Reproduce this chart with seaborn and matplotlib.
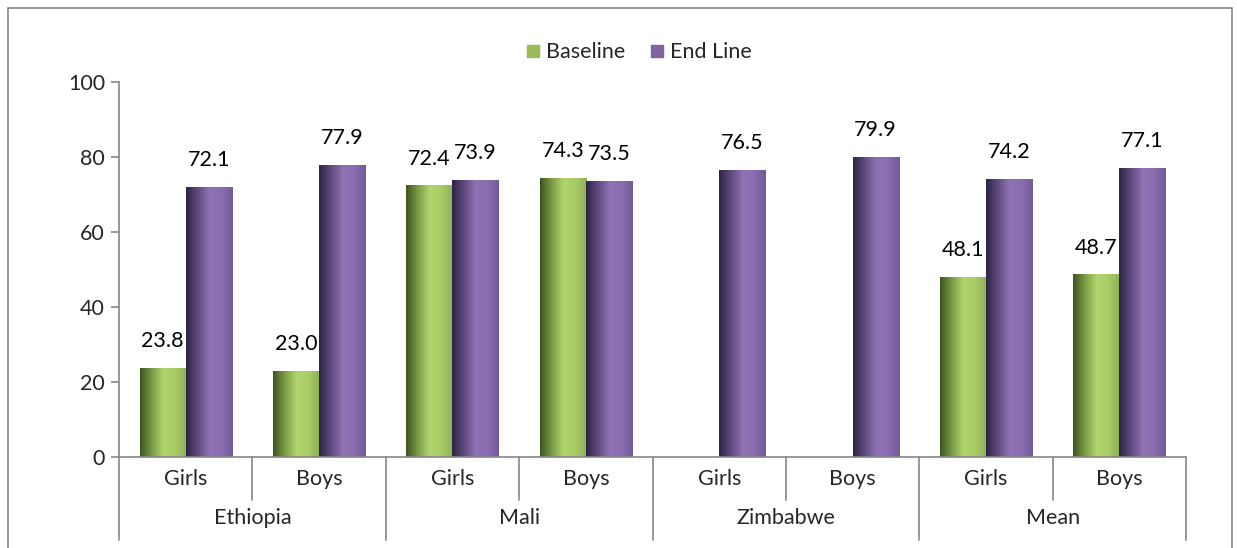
import numpy as np
import pandas as pd
import matplotlib
matplotlib.use("Agg")
import matplotlib.pyplot as plt
from matplotlib.colors import LinearSegmentedColormap
from matplotlib.lines import Line2D
from matplotlib.patches import Rectangle
import seaborn as sns

# Data
countries = ["Ethiopia", "Mali", "Zimbabwe", "Mean"]
genders = ["Girls", "Boys"]
baseline = [23.8, 23.0, 72.4, 74.3, np.nan, np.nan, 48.1, 48.7]
endline = [72.1, 77.9, 73.9, 73.5, 76.5, 79.9, 74.2, 77.1]
series_names = ["Baseline", "End Line"]
yticks = [0, 20, 40, 60, 80, 100]

sns.set_theme(style="white")
plt.rcParams["font.family"] = ["Lato", "DejaVu Sans"]
FS = 15.5

slots = [f"{c}|{g}" for c in countries for g in genders]
rows = []
for s, b, e in zip(slots, baseline, endline):
    if not np.isnan(b):
        rows.append({"slot": s, "series": "Baseline", "value": b})
    rows.append({"slot": s, "series": "End Line", "value": e})
df = pd.DataFrame(rows)

green = "#9bbb59"
purple = "#8064a2"
grad = {
    "Baseline": LinearSegmentedColormap.from_list(
        "g", ["#3d5420", "#7a9a44", "#b2d46e", "#a8cc66", "#8fb057"]),
    "End Line": LinearSegmentedColormap.from_list(
        "p", ["#2e2442", "#5e4a7e", "#8e72b4", "#8a6fb0", "#72599a"]),
}

fig = plt.figure(figsize=(12.37, 5.48), dpi=100)
ax = fig.add_axes([0.0962, 0.166, 0.8626, 0.6844])

sns.barplot(data=df, x="slot", y="value", hue="series", order=slots,
            hue_order=series_names, palette=[green, purple], width=0.69,
            errorbar=None, ax=ax, legend=False)

# gradient fill on each bar + value labels
gv = np.linspace(0, 1, 256).reshape(1, -1)
for container, name in zip(ax.containers, series_names):
    for bar in container:
        h = bar.get_height()
        if np.isnan(h) or h == 0:
            continue
        x0, w = bar.get_x(), bar.get_width()
        im = ax.imshow(gv, cmap=grad[name], aspect="auto",
                       extent=[x0, x0 + w, 0, h], zorder=2)
        im.set_clip_path(bar)
        ax.text(x0 + w / 2, h + 4.5, f"{h:.1f}", ha="center", va="bottom",
                fontsize=FS, color="black")

ax.set_xlim(-0.5, len(slots) - 0.5)
ax.set_ylim(0, 100)
ax.set_yticks(yticks)
ax.set_yticklabels([str(t) for t in yticks], fontsize=FS)
ax.set_xticks([])
ax.set_xlabel("")
ax.set_ylabel("")
for side in ["top", "right", "bottom"]:
    ax.spines[side].set_visible(False)
ax.spines["left"].set_color("#868686")
ax.spines["left"].set_linewidth(1.2)
ax.tick_params(axis="y", length=6, color="#868686", width=1.2, left=True, pad=4)

# multi-level category axis
line_kw = dict(color="#868686", lw=1.2, clip_on=False,
               transform=ax.get_xaxis_transform())
ax.plot([-0.5, len(slots) - 0.5], [0, 0], **line_kw)
for i in range(len(slots) + 1):
    xb = i - 0.5
    bottom = -0.22 if i % 2 == 0 else -0.115
    ax.plot([xb, xb], [0, bottom], **line_kw)
for i, s in enumerate(slots):
    ax.text(i, -0.058, s.split("|")[1], ha="center", va="center", fontsize=FS,
            transform=ax.get_xaxis_transform())
for j, c in enumerate(countries):
    ax.text(2 * j + 0.5, -0.162, c, ha="center", va="center", fontsize=FS,
            transform=ax.get_xaxis_transform())

handles = [Line2D([], [], marker="s", ls="", markersize=9, color=green),
           Line2D([], [], marker="s", ls="", markersize=9, color=purple)]
fig.legend(handles, series_names, loc="center", bbox_to_anchor=(0.515, 0.905),
           ncol=2, frameon=False, fontsize=FS, handletextpad=0.1,
           columnspacing=1.0, handlelength=1.0)

# outer chart border
fig.add_artist(Rectangle((0.0065, -0.01), 0.9895, 0.995, transform=fig.transFigure,
                         fill=False, edgecolor="#868686", lw=1.2))

fig.savefig("out.png", dpi=100)
